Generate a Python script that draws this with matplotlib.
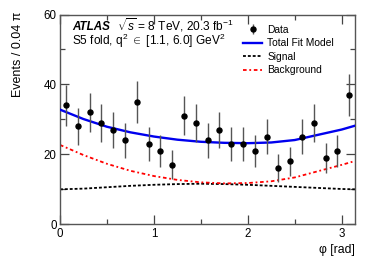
import matplotlib

matplotlib.use("Agg")
import matplotlib.pyplot as plt  # noqa: E402
from matplotlib.ticker import MultipleLocator  # noqa: E402
import numpy as np  # noqa: E402

# data: 25 bins of width 0.04*pi in phi
BIN_WIDTH = 0.04 * np.pi
N_BINS = 25
DATA_COUNTS = [34, 28, 32, 29, 27, 24, 35, 23, 21, 17, 31, 29, 24,
               27, 23, 23, 21, 25, 16, 18, 25, 29, 19, 21, 37]

# fit curves
CURVE_PHI = [0.0, 0.25, 0.5, 0.75, 1.0, 1.25, 1.5, 1.75, 2.0, 2.25, 2.5, 2.75, 3.0, np.pi]
TOTAL_FIT = [32.8, 30.1, 27.9, 26.3, 25.1, 24.2, 23.6, 23.3, 23.2, 23.4, 24.1, 25.6, 27.1, 28.2]
SIGNAL = [10.0, 10.2, 10.6, 11.0, 11.3, 11.5, 11.6, 11.5, 11.3, 11.0, 10.7, 10.4, 10.1, 10.0]
BACKGROUND = [22.7, 19.8, 17.3, 15.3, 13.8, 12.7, 12.0, 11.7, 11.8, 12.3, 13.4, 15.2, 17.0, 18.1]

W, H = 374, 268

plt.rcParams["font.family"] = ["Liberation Sans", "DejaVu Sans"]
plt.rcParams["mathtext.fontset"] = "custom"
plt.rcParams["mathtext.rm"] = "Liberation Sans"
plt.rcParams["mathtext.it"] = "Liberation Sans:italic"

fig = plt.figure(figsize=(W / 100, H / 100), dpi=100)
ax = fig.add_axes([60 / W, 1 - 224.3 / H, 295 / W, 209.8 / H])

centers = (np.arange(N_BINS) + 0.5) * BIN_WIDTH
counts = np.array(DATA_COUNTS, dtype=float)
h_data = ax.errorbar(centers, counts, yerr=np.sqrt(counts), fmt="o", color="black",
                     ecolor="#555555", elinewidth=1.0, markersize=3.6, capsize=0,
                     label="Data", zorder=4)
h_tot, = ax.plot(CURVE_PHI, TOTAL_FIT, color="#0000ee", lw=1.7,
                 label="Total Fit Model", zorder=3)
h_sig, = ax.plot(CURVE_PHI, SIGNAL, color="black", lw=1.3, ls=(0, (1.6, 1.1)),
                 label="Signal", zorder=2)
h_bkg, = ax.plot(CURVE_PHI, BACKGROUND, color="#ff0000", lw=1.3, ls=(0, (2, 1.5, 1, 1.5)),
                 label="Background", zorder=2)

ax.set_xlim(0, np.pi)
ax.set_ylim(0, 60)
ax.xaxis.set_major_locator(MultipleLocator(1))
ax.xaxis.set_minor_locator(MultipleLocator(0.5))
ax.yaxis.set_major_locator(MultipleLocator(20))
ax.yaxis.set_minor_locator(MultipleLocator(10))
ax.tick_params(which="both", direction="in", top=True, right=True,
               labelsize=8.3, pad=2.5, color="#444444")
ax.tick_params(which="major", length=6.5, width=0.9)
ax.tick_params(which="minor", length=3.5, width=0.9)
for sp in ax.spines.values():
    sp.set_color("#555555")
    sp.set_linewidth(1.0)

ax.legend(handles=[h_data, h_tot, h_sig, h_bkg],
          loc="upper left", bbox_to_anchor=(183 / 295, 1 - 10 / 209.8),
          frameon=False, fontsize=7.4, handlelength=1.85, handletextpad=0.5,
          labelspacing=0.35, borderaxespad=0, borderpad=0)

fig.text(72 / W, 1 - 30 / H, "ATLAS", fontsize=8.4, fontweight="bold", style="italic")
fig.text(117 / W, 1 - 30 / H, r"$\sqrt{s}$ = 8 TeV, 20.3 fb$^{-1}$", fontsize=8.6)
fig.text(72 / W, 1 - 45.5 / H, r"S5 fold, q$^{2}$ $\in$ [1.1, 6.0] GeV$^{2}$", fontsize=8.6)

fig.text(18 / W, 1 - 12 / H, "Events / 0.04 \u03c0", rotation=90, ha="center", va="top",
         fontsize=9.0)
fig.text(355 / W, 1 - 250 / H, "\u03c6 [rad]", ha="right", va="center", fontsize=8.8)

fig.savefig("out.png", dpi=100)
